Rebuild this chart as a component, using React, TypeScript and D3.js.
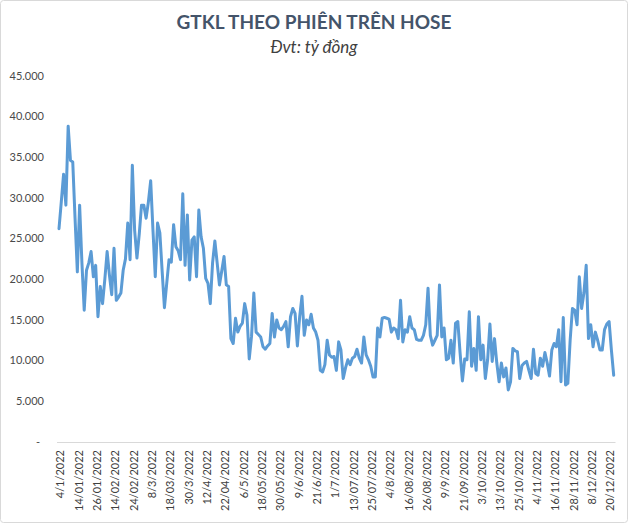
import React from "react";
import * as d3 from "d3";

const tickLabels = [
  "4/1/2022", "14/01/2022", "26/01/2022", "14/02/2022", "24/02/2022", "8/3/2022",
  "18/03/2022", "30/3/2022", "12/4/2022", "22/04/2022", "6/5/2022", "18/05/2022",
  "30/05/2022", "9/6/2022", "21/6/2022", "1/7/2022", "13/07/2022", "25/07/2022",
  "4/8/2022", "16/08/2022", "26/08/2022", "9/9/2022", "21/09/2022", "3/10/2022",
  "13/10/2022", "25/10/2022", "4/11/2022", "16/11/2022", "28/11/2022", "8/12/2022",
  "20/12/2022",
];
const labelEvery = 8;

const values = [
  26200, 29500, 32900, 29100, 38800, 34600, 34400, 27500, 20900, 29100,
  22000, 16200, 21100, 22000, 23400, 20300, 21700, 15400, 19100, 17000,
  20000, 23400, 20500, 18100, 23800, 17400, 17800, 18300, 21100, 22500,
  26900, 22400, 34000, 26000, 22600, 25500, 29100, 29100, 27500, 29500,
  32100, 26000, 20300, 26900, 25700, 21000, 16500, 19500, 22400, 22100,
  26700, 24000, 23500, 22400, 30500, 21700, 27900, 19900, 24800, 25200,
  20300, 28500, 25200, 23800, 20100, 19500, 17000, 22000, 24700, 22000,
  19300, 21000, 22800, 19300, 19100, 12700, 12100, 15200, 13500, 14200,
  14600, 17000, 15600, 10200, 13000, 18300, 13500, 13200, 12900, 11700,
  11400, 11800, 12100, 15800, 12900, 15000, 14000, 13800, 14200, 14800,
  11700, 15400, 16400, 15800, 11800, 15400, 17900, 13100, 15000, 14400,
  15700, 14000, 13500, 12500, 8800, 8600, 9500, 12500, 10700, 10400,
  10500, 8800, 12300, 11300, 7800, 9100, 10100, 9500, 10300, 10500,
  11400, 10300, 9700, 12900, 10700, 10100, 9300, 8000, 8000, 14000,
  12900, 15200, 15300, 15200, 15100, 13500, 14000, 13800, 12700, 17400,
  12300, 13800, 13500, 15400, 14000, 13800, 12600, 12500, 12500, 13100,
  14400, 18900, 13100, 11900, 12500, 13100, 19300, 12900, 14000, 10100,
  10300, 12500, 9700, 14600, 14800, 10900, 7500, 10200, 10100, 16000,
  9300, 11500, 8800, 15400, 10100, 11900, 7800, 10100, 14500, 9900,
  12700, 9700, 7400, 9700, 8000, 9100, 6400, 7400, 11500, 11200,
  11100, 7800, 9400, 9700, 9900, 8800, 7800, 11400, 8400, 8200,
  10300, 9300, 11000, 9700, 8100, 11300, 12100, 11700, 13800, 7400,
  15300, 7000, 7200, 12500, 16400, 16200, 14400, 20300, 16400, 18300,
  21700, 12700, 14400, 11700, 13500, 12500, 11300, 11300, 13800, 14500,
  14800, 11300, 8200,
];

const yTicks = [0, 5000, 10000, 15000, 20000, 25000, 30000, 35000, 40000, 45000];

const title = "GTKL THEO PHIÊN TRÊN HOSE";
const subtitle = "Đvt: tỷ đồng";

const W = 630;
const H = 525;
const FONT = "Lato, 'Open Sans', sans-serif";

const vnFormat = d3.formatLocale({
  decimal: ",",
  thousands: ".",
  grouping: [3],
  currency: ["", ""],
}).format(",");

export default function App() {
  const x = d3.scaleLinear().domain([0, values.length - 1]).range([59, 613.7]);
  const y = d3.scaleLinear().domain([0, 45000]).range([442, 75.7]);

  const line = d3
    .line<number>()
    .x((_, i) => x(i))
    .y((d) => y(d));

  return (
    <svg
      width={W}
      height={H}
      style={{ position: "absolute", left: 0, top: 0, background: "#fff" }}
    >
      <rect x={0.5} y={0.5} width={627} height={522} rx={3} fill="#fff" stroke="#d9d9d9" />
      <text
        x={314}
        y={29}
        textAnchor="middle"
        fontFamily={FONT}
        fontWeight="bold"
        fontSize={19}
        fill="#44546a"
      >
        {title}
      </text>
      <text
        x={314}
        y={53}
        textAnchor="middle"
        fontFamily={FONT}
        fontStyle="italic"
        fontSize={17}
        fill="#404040"
      >
        {subtitle}
      </text>
      {yTicks.map((t) => (
        <text
          key={t}
          x={t === 0 ? 40 : 44}
          y={y(t)}
          dy="0.35em"
          textAnchor="end"
          fontFamily={FONT}
          fontSize={11}
          fill="#4a4a4a"
        >
          {t === 0 ? "-" : vnFormat(t)}
        </text>
      ))}
      <line x1={57} x2={615.5} y1={442.5} y2={442.5} stroke="#d9d9d9" strokeWidth={1} />
      {tickLabels.map((lab, k) => {
        const xi = x(k * labelEvery) + 1.5;
        return (
          <text
            key={lab}
            transform={`translate(${xi},450) rotate(-90)`}
            dy="0.35em"
            textAnchor="end"
            fontFamily={FONT}
            fontSize={11}
            fill="#404040"
          >
            {lab}
          </text>
        );
      })}
      <path
        d={line(values) || ""}
        fill="none"
        stroke="#5b9bd5"
        strokeWidth={3}
        strokeLinejoin="round"
        strokeLinecap="round"
      />
    </svg>
  );
}
